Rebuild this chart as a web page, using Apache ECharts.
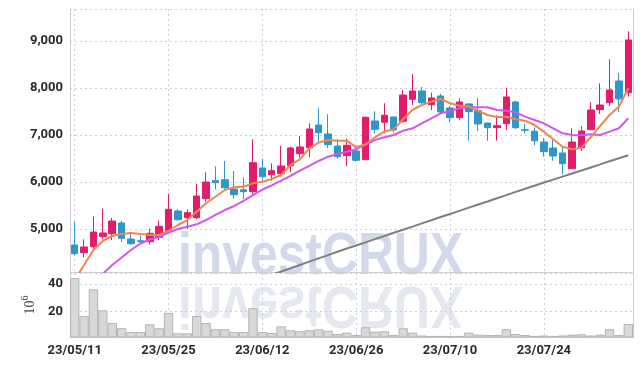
<!DOCTYPE html>
<html><head><meta charset="utf-8">
<script src="https://cdn.jsdelivr.net/npm/echarts@6/dist/echarts.min.js"></script>
<style>html,body{margin:0;padding:0;background:#fff}#c{width:643px;height:366px}</style>
</head><body><div id="c"></div>
<script>
const dates = ["23/05/11","23/05/12","23/05/15","23/05/16","23/05/17","23/05/18","23/05/19","23/05/22","23/05/23","23/05/24",
"23/05/25","23/05/26","23/05/30","23/05/31","23/06/01","23/06/02","23/06/05","23/06/07","23/06/08","23/06/09",
"23/06/12","23/06/13","23/06/14","23/06/15","23/06/16","23/06/19","23/06/20","23/06/21","23/06/22","23/06/23",
"23/06/26","23/06/27","23/06/28","23/06/29","23/06/30","23/07/03","23/07/04","23/07/05","23/07/06","23/07/07",
"23/07/10","23/07/11","23/07/12","23/07/13","23/07/14","23/07/17","23/07/18","23/07/19","23/07/20","23/07/21",
"23/07/24","23/07/25","23/07/26","23/07/27","23/07/28","23/07/31","23/08/01","23/08/02","23/08/03","23/08/04"];

const openP  = [4660,4496,4623,4836,4900,5128,4787,4751,4730,4823, 4964,5383,5240,5240,5645,6028,6049,5851,5836,5794,
                6298,6156,6177,6347,6602,6730,7213,7022,6766,6560, 6660,6475,7298,7271,7383,7292,7760,7937,7646,7830,
                7575,7369,7660,7518,7256,7156,7241,7703,7113,7079, 6851,6724,6617,6283,6730,7113,7539,7688,8149,7901];
const closeP = [4474,4617,4936,4915,5170,4802,4687,4730,4908,5057, 5419,5198,5347,5702,6000,5985,5879,5730,5794,6411,
                6113,6241,6340,6724,6745,7128,7049,6794,6539,6781, 6462,7377,7121,7420,7107,7851,7937,7688,7788,7490,
                7369,7703,7497,7234,7156,7198,7809,7156,7100,6879, 6645,6553,6390,6851,7085,7532,7639,7958,7766,9022];
const lowP   = [4447,4398,4574,4781,4766,4723,4660,4696,4674,4766, 4921,5180,5000,5206,5581,5845,5815,5638,5638,5745,
                6007,6028,6113,6213,6517,6526,6851,6724,6490,6341, 6432,6462,7036,7036,7049,7262,7639,7653,7526,7441,
                7262,7313,6879,7085,6879,6879,7100,7128,7036,6781, 6539,6453,6156,6283,6660,7113,7447,7618,7483,7815];
const highP  = [5155,4781,5262,5432,5234,5177,4894,4857,5006,5177, 5751,5420,5419,5964,6207,6334,6447,6234,6100,6909,
                6496,6398,6766,6751,6979,7249,7568,7441,6909,6922, 6773,7390,7505,7675,7390,7958,8292,8022,7901,7879,
                7618,7781,7681,7794,7256,7420,8007,7724,7241,7164, 6937,6894,6751,7143,7192,7696,8100,8611,8320,9207];

const ma5  = [3915,4234,4553,4745,4851,4894,4915,4894,4872,4872, 4957,5085,5191,5368,5547,5687,5830,5887,5900,5972,
              6007,6064,6149,6362,6480,6717,6837,6894,6879,6879, 6738,6802,6951,7071,7121,7334,7532,7639,7709,7766,
              7675,7624,7611,7511,7426,7383,7390,7334,7305,7213, 7071,6909,6751,6696,6730,6951,7192,7426,7603,7994];
const ma20 = [3300,3550,3800,4050,4234,4394,4553,4691,4777,4830, 4921,5000,5049,5100,5191,5298,5404,5490,5600,5720,
              5840,5930,6030,6130,6240,6341,6447,6539,6596,6645, 6696,6794,6894,6951,7000,7092,7143,7249,7356,7462,
              7511,7568,7589,7589,7589,7532,7518,7483,7390,7320, 7249,7143,7036,7000,6994,7015,7000,7071,7143,7356];
const ma60 = [null,null,null,null,null,null,null,null,null,null, null,null,null,null,null,null,null,null,null,null,
              null,4020,4095,4165,4235,4305,4375,4445,4515,4585, 4650,4715,4785,4850,4920,4985,5050,5120,5185,5255,
              5320,5385,5455,5520,5585,5655,5720,5790,5855,5920, 5990,6050,6115,6180,6245,6310,6375,6440,6505,6570];

const volume = [44.4,16.9,36.3,21.0,11.7,7.9,5.2,5.2,10.8,7.9, 19.1,4.2,4.2,16.9,11.7,7.2,7.2,5.2,5.2,22.5,
                5.2,4.4,9.3,6.4,5.7,6.4,7.2,6.1,3.7,4.7, 3.0,8.6,5.4,5.7,3.0,7.9,4.7,2.6,2.3,2.3,
                2.3,2.3,4.7,3.2,3.0,3.0,7.2,3.7,3.0,2.3, 2.6,2.3,2.6,3.2,3.5,2.6,3.2,7.2,3.0,11.0];

const candles = openP.map((o, i) => [o, closeP[i], lowP[i], highP[i]]);

const LBL = {fontFamily: "Roboto, 'Liberation Sans', sans-serif",
             fontWeight: 'bold', fontSize: 13, color: '#2a2a2a'};
const gridLine = {show: true, lineStyle: {color: '#c9cee0', type: [2, 3], width: 1}};
const border = {show: true, lineStyle: {color: '#cfcfcf', width: 1}};

const chart = echarts.init(document.getElementById('c'), null, {renderer: 'canvas'});
chart.setOption({
  animation: false,
  backgroundColor: '#fff',
  grid: [
    {left: 70, right: 10, top: 9, height: 263},
    {left: 70, right: 10, top: 273, height: 64}
  ],
  graphic: [
    {type: 'text', x: 178, y: 280, scaleX: 0.83, z: 0,
     style: {text: 'investCRUX', x: 0, y: -23, font: 'bold 60px "Liberation Sans", Arial, sans-serif',
             fill: '#d3d8ea', verticalAlign: 'middle', align: 'left'}},
    {type: 'text', x: 178, y: 281, scaleX: 0.83, scaleY: -1, z: 0,
     style: {text: 'investCRUX', x: 0, y: -23, font: 'bold 60px "Liberation Sans", Arial, sans-serif',
             fill: '#e6e8f1', verticalAlign: 'middle', align: 'left'}}
  ],
  xAxis: [
    {type: 'category', gridIndex: 0, data: dates, boundaryGap: true,
     axisLine: border, axisTick: {show: false}, axisLabel: {show: false},
     splitLine: Object.assign({interval: 9, alignWithLabel: true}, gridLine)},
    {type: 'category', gridIndex: 1, data: dates, boundaryGap: true,
     axisLine: border, axisTick: {show: false, alignWithLabel: true, interval: 9},
     axisLabel: Object.assign({interval: 9, margin: 7}, LBL),
     splitLine: Object.assign({interval: 9, alignWithLabel: true}, gridLine)}
  ],
  yAxis: [
    {type: 'value', gridIndex: 0, min: 4085, max: 9681, splitNumber: 5,
     axisLine: border, axisTick: {show: false},
     axisLabel: Object.assign({margin: 7, showMinLabel: false, showMaxLabel: false,
       formatter: v => v.toLocaleString('en-US')}, LBL),
     splitLine: gridLine},
    {type: 'value', gridIndex: 0, position: 'right', min: 4085, max: 9681,
     axisLine: border, axisTick: {show: false}, axisLabel: {show: false}, splitLine: {show: false}},
    {type: 'value', gridIndex: 1, min: 1.5, max: 48.2, splitNumber: 2,
     axisLine: border, axisTick: {show: false},
     axisLabel: Object.assign({margin: 7, showMinLabel: false, showMaxLabel: false}, LBL),
     splitLine: gridLine,
     name: '{a|10}{b|6}', nameLocation: 'middle', nameRotate: 90, nameGap: 18,
     nameTextStyle: {rich: {
       a: {fontFamily: "'Liberation Serif','DejaVu Serif',serif", fontSize: 14, color: '#444', lineHeight: 20},
       b: {fontFamily: "'Liberation Serif','DejaVu Serif',serif", fontSize: 10, color: '#444', verticalAlign: 'top', lineHeight: 20}
     }}},
    {type: 'value', gridIndex: 1, position: 'right', min: 1.5, max: 48.2,
     axisLine: border, axisTick: {show: false}, axisLabel: {show: false}, splitLine: {show: false}}
  ],
  series: [
    {type: 'candlestick', xAxisIndex: 0, yAxisIndex: 0, data: candles, barWidth: 7,
     itemStyle: {color: '#e31c6b', color0: '#3095c8', borderColor: '#e31c6b', borderColor0: '#3095c8', borderWidth: 1}},
    {type: 'line', xAxisIndex: 0, yAxisIndex: 0, data: ma60, showSymbol: false, clip: true,
     lineStyle: {color: '#7f7f7f', width: 2}},
    {type: 'line', xAxisIndex: 0, yAxisIndex: 0, data: ma20, showSymbol: false, clip: true,
     lineStyle: {color: '#d257ec', width: 2}},
    {type: 'line', xAxisIndex: 0, yAxisIndex: 0, data: ma5, showSymbol: false, clip: true,
     lineStyle: {color: '#ef8650', width: 2}},
    {type: 'bar', xAxisIndex: 1, yAxisIndex: 2, data: volume, barCategoryGap: '0%',
     itemStyle: {color: '#d8d8d8', borderColor: '#b4b4b4', borderWidth: 1}}
  ]
});
</script></body></html>
